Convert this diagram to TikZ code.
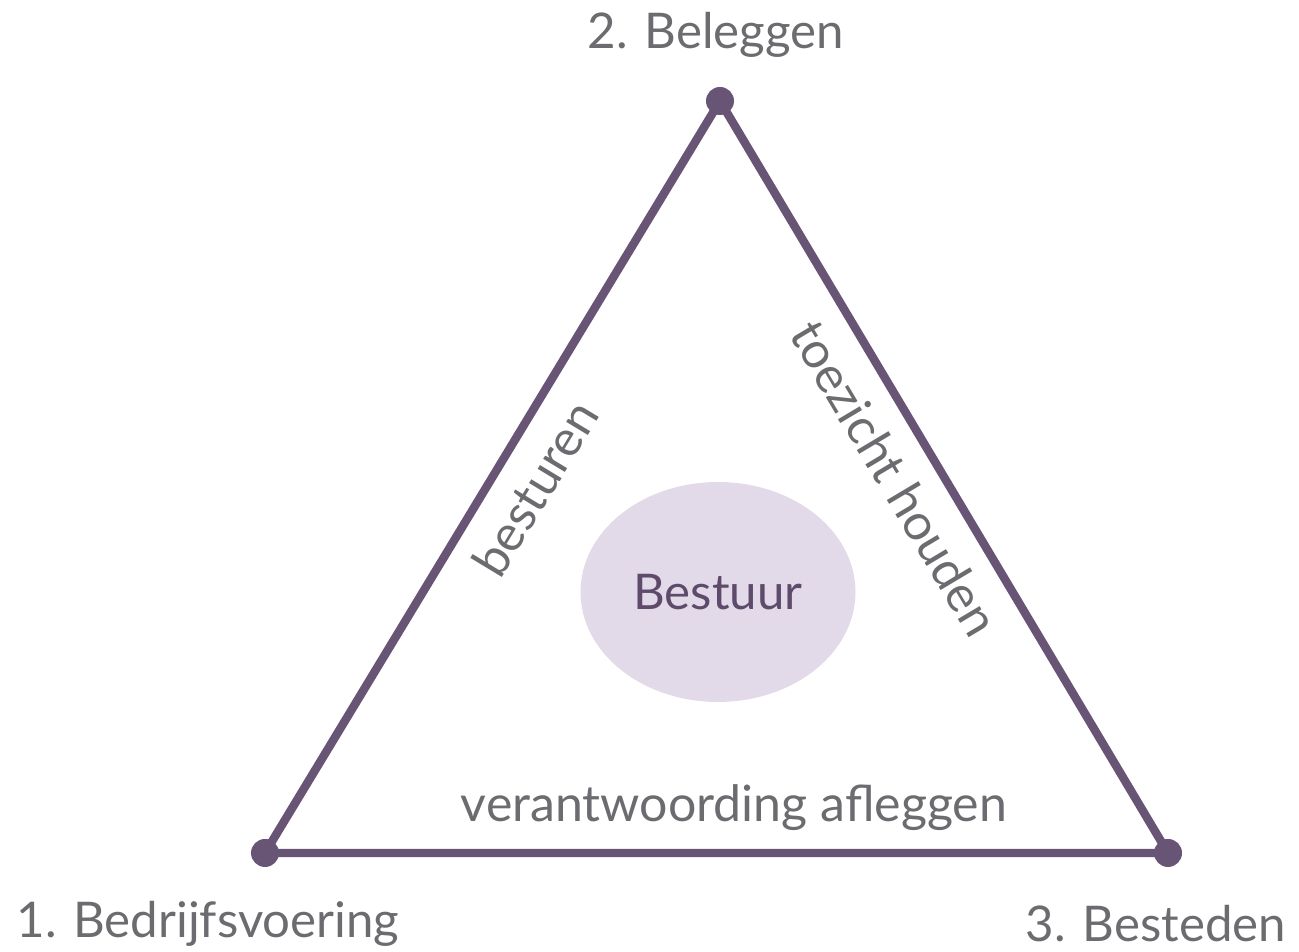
\documentclass[tikz,border=0pt]{standalone}
\usepackage{fontspec}
\setmainfont{Lato}
\usetikzlibrary{shapes.geometric}
\definecolor{edgepurple}{RGB}{104,84,116}
\definecolor{bubble}{RGB}{226,218,232}
\definecolor{labelgrey}{RGB}{108,108,112}
\definecolor{corepurple}{RGB}{94,75,108}
\tikzset{
  cornerlabel/.style={text=labelgrey, font=\fontsize{28}{32}\selectfont, inner sep=0pt},
  sidelabel/.style={text=labelgrey, font=\fontsize{28.5}{32}\selectfont, inner sep=0pt},
}
\begin{document}
\begin{tikzpicture}[x=0.02cm,y=0.02cm]
    \useasboundingbox (0,0) rectangle (1299,952);
    \coordinate (Bedrijf) at (265,99);
    \coordinate (Beleg)   at (720,851);
    \coordinate (Besteed) at (1168,99);

    % the board in the middle
    \node[ellipse, fill=bubble, minimum width=5.5cm, minimum height=4.4cm,
          text=corepurple, font=\fontsize{28}{32}\selectfont] (Bestuur) at (718,360) {Bestuur};

    \draw [edgepurple, line width=4.8pt, line join=round] (Bedrijf) -- (Beleg) -- (Besteed) -- cycle;
    \foreach \c in {Bedrijf,Beleg,Besteed}{% a dot on each corner
      \fill[edgepurple] (\c) circle (0.28cm);
    }

    \node[cornerlabel] (LabelBeleg)   at (716,917) {2. Beleggen};
    \node[cornerlabel] (LabelBedrijf) at (208,28)  {1. Bedrijfsvoering};
    \node[cornerlabel] (LabelBesteed) at (1156,28) {3. Besteden};

    \node[sidelabel, rotate=58.8]  (Besturen) at (535,464) {besturen};
    \node[sidelabel, rotate=-59.2] (Toezicht) at (895,474) {toezicht houden};
    \node[sidelabel]               (Verantw)  at (734,144) {verantwoording afleggen};
\end{tikzpicture}
\end{document}
